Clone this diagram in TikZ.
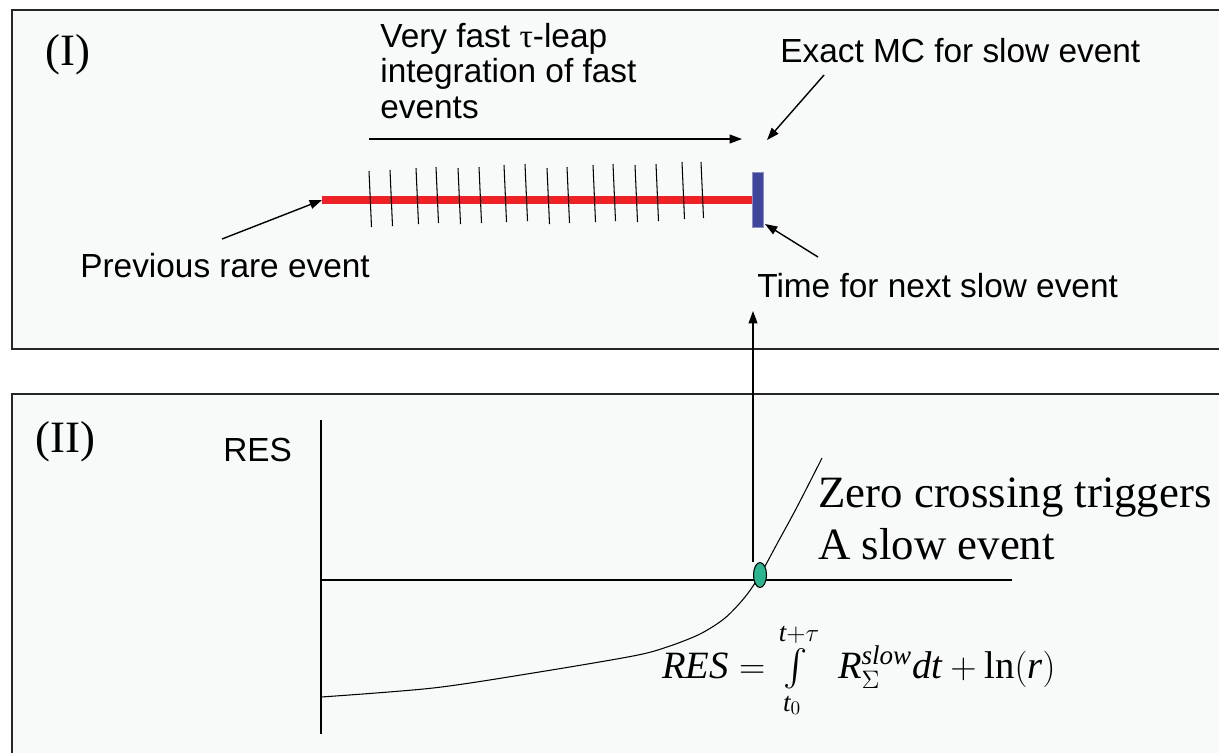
\documentclass[tikz,border=0pt]{standalone}
\usepackage{amsmath}
\usepackage{fontspec}
\setmainfont{Liberation Serif}
\newfontfamily\arialfont{Liberation Sans}
\usetikzlibrary{arrows.meta}
\usetikzlibrary{shapes.geometric}

\definecolor{panelgray}{HTML}{F8F9F9}
\definecolor{fastred}{HTML}{EE2127}
\definecolor{slowblue}{HTML}{3D469A}
\definecolor{crossgreen}{HTML}{2BB68F}

\tikzset{
    sanslbl/.style={font=\arialfont\fontsize{19}{20}\selectfont, inner sep=0pt, anchor=base west},
    seriflbl/.style={font=\fontsize{25.5}{29.5}\selectfont, inner sep=0pt, anchor=base west},
    panel/.style={draw=black!85, line width=1pt, fill=panelgray},
    pointer/.style={-{Triangle[length=7pt,width=5pt]}, line width=0.8pt},
    thinline/.style={line width=0.6pt},
}

\begin{document}
\begin{tikzpicture}[x=0.02cm, y=-0.02cm]
    \clip (0,0) rectangle (1219,752);

    % Panels
    \draw[panel] (12,10) rectangle (1240,349);
    \draw[panel] (12,394) rectangle (1240,780);

    % (I) tau-leap between two slow events
    \node[seriflbl] (panelI) at (45,65) {(I)};
    \node[sanslbl, align=left] (fastlbl) at (380,118) {Very fast {\rmfamily τ}-leap\\integration of fast\\events};
    \node[sanslbl] (exactlbl) at (780,62) {Exact MC for slow event};
    \node[sanslbl] (prevlbl) at (80,277) {Previous rare event};
    \node[sanslbl] (nextlbl) at (757,297) {Time for next slow event};

    \coordinate (prevev) at (322,200);
    \node[draw=slowblue!60, fill=slowblue, inner sep=0pt, minimum width=0.22cm, minimum height=1.1cm] (slow) at (757.5,200) {};
    \draw[fastred, line width=4pt] (prevev) -- (slow.center);
    \node[draw=slowblue!60, fill=slowblue, inner sep=0pt, minimum width=0.22cm, minimum height=1.1cm] at (slow) {};

    % fast steps
    \foreach \x/\t/\b in {369/171/227, 390/170/226, 416/168/224, 436/167/223,
        458/168/224, 479/167/223, 504/165/222, 525/164/221, 547/168/224, 567/167/223,
        593/165/222, 613/164/221, 635/165/222, 656/164/221, 682/162/219, 701/162/218} {
        \draw[thinline] (\x,\t) -- (\x+2.5,\b);
    }

    \coordinate (sweepL) at (369,139);
    \coordinate (sweepR) at (742,139);
    \draw[pointer] (sweepL) -- (sweepR);

    \coordinate (exacttail) at (824,75);
    \coordinate (exacthead) at (767,140);
    \draw[pointer] (exacttail) -- (exacthead);

    \coordinate (prevtail) at (222,239);
    \draw[pointer] (prevtail) -- (prevev);

    \coordinate (nexttail) at (818,257);
    \coordinate (nexthead) at (765,224);
    \draw[pointer] (nexttail) -- (nexthead);

    % (II) residual
    \node[seriflbl] (panelII) at (35,452) {(II)};
    \node[sanslbl] (reslbl) at (223,461) {RES};

    \coordinate (ytop) at (321,420);
    \coordinate (ybot) at (321,734);
    \coordinate (xleft) at (321,580);
    \coordinate (xright) at (1012,580);
    \draw[thinline] (ytop) -- (ybot);
    \draw[thinline] (xleft) -- (xright);

    \draw[thinline] plot[smooth] coordinates {(321,697) (433,688) (533,673) (633,656)
        (667,647) (700,634) (725,618) (745,597) (760,575) (778,542) (797,507) (822,458)};

    \coordinate (trigger) at (753,311);
    \node[ellipse, draw, fill=crossgreen, line width=0.6pt, inner sep=0pt, minimum width=0.26cm, minimum height=0.5cm] (cross) at (760,575) {};
    \draw[pointer] (cross.north -| trigger) -- (trigger);

    \node[seriflbl, align=left] (zerolbl) at (818,559) {Zero crossing triggers\\A slow event};
    \node[seriflbl, font=\fontsize{22}{26}\selectfont] (reseq) at (662,678)
        {$\mathit{RES} = \int\limits_{\mathit{t}_0}^{\mathit{t}+\tau}\;\, \mathit{R}_{\Sigma}^{\mathit{slow}}\mathit{dt} + \ln(\mathit{r})$};
\end{tikzpicture}
\end{document}
